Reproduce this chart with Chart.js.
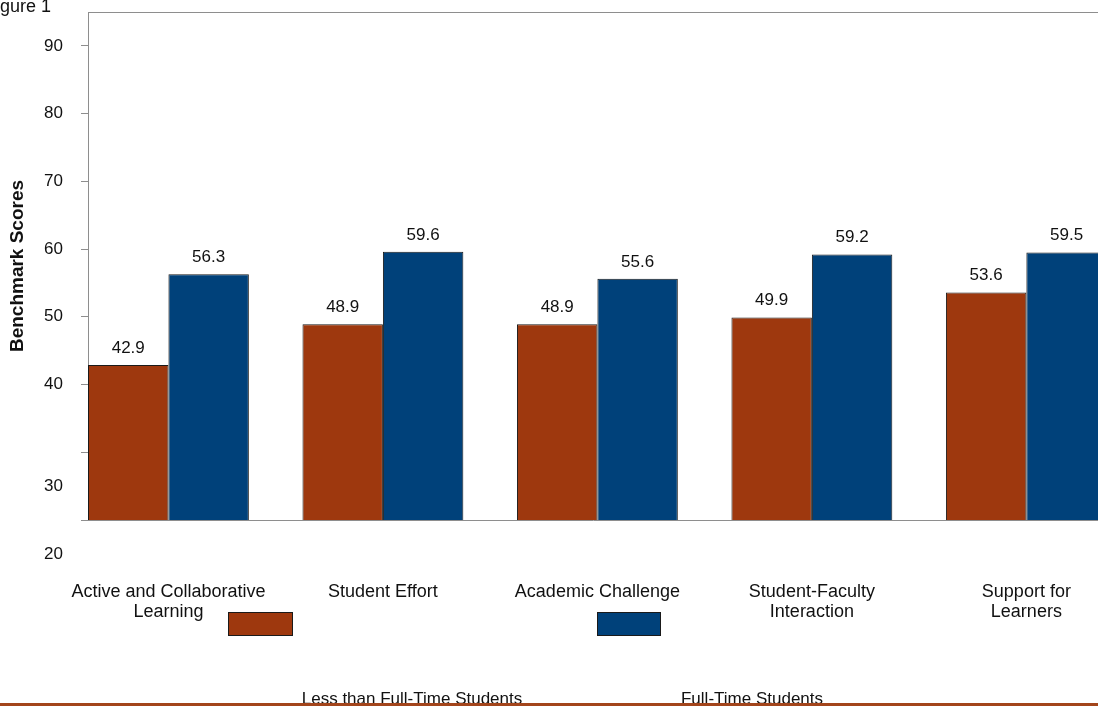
<!DOCTYPE html>
<html>
<head>
<meta charset="utf-8">
<title>Benchmark Scores</title>
<script src="https://cdn.jsdelivr.net/npm/chart.js@4.4.1/dist/chart.umd.min.js"></script>
<style>
  html, body { margin: 0; padding: 0; background: #fff; overflow: hidden; }
  .wrap { position: relative; width: 1098px; height: 706px; }
</style>
</head>
<body>
<div class="wrap"><canvas id="benchChart"></canvas></div>
<script>
const categories = [
  ['Active and Collaborative', 'Learning'],
  ['Student Effort'],
  ['Academic Challenge'],
  ['Student-Faculty', 'Interaction'],
  ['Support for', 'Learners']
];
const seriesNames = ['Less than Full-Time Students', 'Full-Time Students'];
const partTime = [42.9, 48.9, 48.9, 49.9, 53.6];
const fullTime = [56.3, 59.6, 55.6, 59.2, 59.5];
const yTicks = [20, 30, 40, 50, 60, 70, 80, 90];

const ORANGE = '#9E380E';
const BLUE = '#00417A';
const AXIS = '#8e8e8e';
const FONT = '"Liberation Sans", Arial, sans-serif';
Chart.defaults.font.family = FONT;
Chart.defaults.color = '#111';

// keep the plot area exactly where the original has it
function noEdgePadding(s) {
  s.paddingLeft = s.paddingRight = s.paddingTop = s.paddingBottom = 0;
}

// numbers above each bar
const valueLabels = {
  id: 'valueLabels',
  afterDatasetsDraw(chart) {
    const ctx = chart.ctx;
    ctx.save();
    ctx.font = '17px ' + FONT;
    ctx.fillStyle = '#111';
    ctx.textAlign = 'center';
    ctx.textBaseline = 'alphabetic';
    chart.data.datasets.forEach((ds, di) => {
      chart.getDatasetMeta(di).data.forEach((bar, i) => {
        ctx.fillText(ds.data[i].toFixed(1), bar.x, bar.y - 12);
      });
    });
    ctx.restore();
  }
};

// odd bits of the original: top frame line, shifted 30/20 labels, legend, caption, rule
const extras = {
  id: 'extras',
  afterDraw(chart) {
    const ctx = chart.ctx;
    const y = chart.scales.y;
    const area = chart.chartArea;
    ctx.save();
    ctx.strokeStyle = AXIS;
    ctx.lineWidth = 1;
    ctx.beginPath();
    ctx.moveTo(area.left, Math.round(area.top) + 0.5);
    ctx.lineTo(area.right, Math.round(area.top) + 0.5);
    ctx.stroke();

    ctx.font = '17px ' + FONT;
    ctx.fillStyle = '#111';
    ctx.textAlign = 'right';
    ctx.textBaseline = 'middle';
    [30, 20].forEach(v => ctx.fillText(String(v), y.right - 25, y.getPixelForValue(v - 5)));

    ctx.textAlign = 'left';
    ctx.textBaseline = 'alphabetic';
    ctx.font = '18px ' + FONT;
    ctx.fillText('Figure 1', -15, 12);

    const boxes = [{ x: 228, w: 65, tx: 412 }, { x: 597, w: 64, tx: 752 }];
    chart.data.datasets.forEach((ds, i) => {
      const b = boxes[i];
      ctx.fillStyle = ds.backgroundColor;
      ctx.fillRect(b.x, 612, b.w, 24);
      ctx.strokeStyle = '#1a1a1a';
      ctx.lineWidth = 1;
      ctx.strokeRect(b.x + 0.5, 612.5, b.w - 1, 23);
      ctx.fillStyle = '#111';
      ctx.textAlign = 'center';
      ctx.font = '17px ' + FONT;
      ctx.fillText(ds.label, b.tx, 704);
    });
    ctx.fillStyle = '#A3451B';
    ctx.fillRect(0, 703, chart.width, 3);
    ctx.restore();
  }
};

new Chart(document.getElementById('benchChart'), {
  type: 'bar',
  data: {
    labels: categories.map((c, i) => i),
    datasets: [
      { label: seriesNames[0], data: partTime, backgroundColor: ORANGE,
        borderColor: '#1a1a1a', borderWidth: 1, categoryPercentage: 0.75, barPercentage: 1 },
      { label: seriesNames[1], data: fullTime, backgroundColor: BLUE,
        borderColor: '#1a1a1a', borderWidth: 1, categoryPercentage: 0.75, barPercentage: 1 }
    ]
  },
  options: {
    responsive: true,
    maintainAspectRatio: false,
    animation: false,
    layout: { padding: { top: 12, left: 0, right: 0, bottom: 0 } },
    plugins: { legend: { display: false }, tooltip: { enabled: false } },
    scales: {
      x: {
        type: 'linear',
        offset: false,
        bounds: 'data',
        min: -0.375,
        max: 4.334,
        afterBuildTicks: s => { s.ticks = categories.map((c, i) => ({ value: i })); },
        afterFit: s => { s.height = 186; noEdgePadding(s); },
        grid: { display: false },
        border: { color: AXIS, width: 1 },
        ticks: {
          callback: v => categories[v],
          maxRotation: 0, autoSkip: false, padding: 54,
          font: { size: 18, lineHeight: 1.1 }, color: '#111'
        }
      },
      y: {
        min: 20,
        max: 95,
        afterBuildTicks: s => { s.ticks = yTicks.map(v => ({ value: v })); },
        afterFit: s => { s.width = 88; noEdgePadding(s); },
        grid: { drawOnChartArea: false, drawTicks: true, tickLength: 7, color: AXIS },
        border: { color: AXIS, width: 1 },
        ticks: {
          padding: 18, font: { size: 17 }, color: '#111',
          callback: v => (v <= 30 ? '' : String(v))
        },
        title: {
          display: true, text: 'Benchmark Scores', color: '#111',
          font: { size: 19, weight: 'bold' }, padding: { top: 6, bottom: 0 }
        }
      }
    }
  },
  plugins: [valueLabels, extras]
});
</script>
</body>
</html>
